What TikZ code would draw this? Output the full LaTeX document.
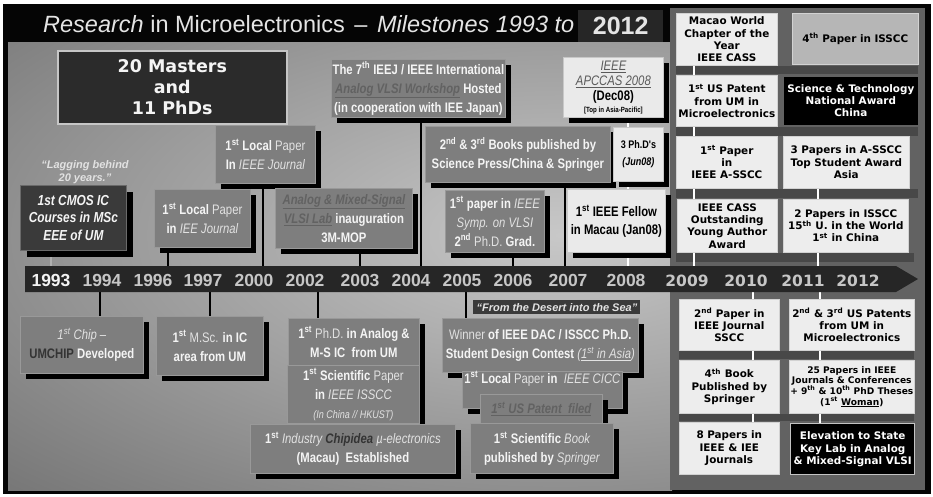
\documentclass[tikz,border=0pt]{standalone}
\usepackage{fontspec}
\setmainfont{Liberation Sans}
\newfontfamily\narf[FakeStretch=0.82]{Liberation Sans}
\newfontfamily\dvsf{DejaVu Sans}
\usetikzlibrary{shadows}
\pgfdeclarelayer{back}
\pgfdeclarelayer{connl}
\pgfsetlayers{back,connl,main}

\definecolor{gfill}{HTML}{7E7E7E}
\definecolor{gline}{HTML}{999999}
\definecolor{cfill}{HTML}{3A3A3A}
\definecolor{cline}{HTML}{6A6A6A}
\definecolor{txtW}{HTML}{F4F4F4}
\definecolor{txtL}{HTML}{E2E2E2}
\definecolor{txtD}{HTML}{343434}
\definecolor{txtG}{HTML}{626262}
\definecolor{txtGB}{HTML}{5A5A5A}
\definecolor{wfill}{HTML}{EAEAEA}
\definecolor{wline}{HTML}{C8C8C8}
\definecolor{rfill}{HTML}{EDEDED}
\definecolor{rline}{HTML}{D2D2D2}
\definecolor{rfillb}{HTML}{B6B6B6}
\definecolor{skline}{HTML}{C4C4C4}
\definecolor{mfill}{HTML}{2B2B2B}
\definecolor{mline}{HTML}{C6C6C6}
\definecolor{panelc}{HTML}{626262}
\definecolor{stripc}{HTML}{484848}
\definecolor{barc}{HTML}{262626}
\definecolor{tboxc}{HTML}{262626}
\definecolor{titlec}{HTML}{E4E4E4}
\definecolor{yearc}{HTML}{C6C6C6}
\definecolor{yearw}{HTML}{F2F2F2}
\definecolor{gradin}{HTML}{C8C8C8}
\definecolor{gradout}{HTML}{383838}
\definecolor{framec}{HTML}{050505}
\definecolor{dfill}{HTML}{3A3A3A}
\definecolor{lconnc}{HTML}{B0B0B0}

\newcommand\gfont{\narf\bfseries\fontsize{13.8}{19}\selectfont}
\newcommand\litx[1]{{\mdseries\itshape\color{txtL}#1}}
\newcommand\rgx[1]{{\mdseries\color{txtL}#1}}
\newcommand\gyx[1]{{\itshape\color{txtG}\underline{#1}}}
\newcommand\dkx[1]{{\color{txtD}#1}}
\newcommand\tsup[1]{\textsuperscript{#1}}

\tikzset{
  sh/.style={drop shadow={shadow xshift=#1, shadow yshift=-#1, fill=black, opacity=1}},
  sh/.default=6pt,
  gbase/.style={draw=gline, line width=0.8pt, fill=gfill, inner sep=0pt, align=center,
    anchor=north west, text=txtW, font=\gfont},
  gbox/.style={gbase, sh},
  wbox/.style={gbox, fill=wfill, draw=wline, text=black},
  rbox/.style={draw=rline, line width=0.6pt, fill=rfill, inner sep=0pt, align=center,
    anchor=north west, text=black, font=\dvsf\bfseries\fontsize{10.4}{12.3}\selectfont},
  conn/.style={draw=black, line width=2.4pt},
  lconn/.style={draw=lconnc, line width=2.6pt},
  wconn/.style={draw=white, line width=2.8pt},
  stripbar/.style={fill=stripc},
  yearf/.style={font=\bfseries\fontsize{17.5}{20}\selectfont, text=yearc, anchor=base, inner sep=0pt},
  yearr/.style={font=\dvsf\bfseries\fontsize{15.5}{18}\selectfont, text=yearc, anchor=base, inner sep=0pt}
}

\begin{document}
\begin{tikzpicture}[x=1pt,y=-1pt]
\useasboundingbox (0,0) rectangle (933,496);

\begin{pgfonlayer}{back}
  \fill[white] (0,0) rectangle (933,496);
  \fill[framec] (3,4) rectangle (931,494);
  \begin{scope}
    \clip (8,42) rectangle (672,490);
    \shade[inner color=gradin, outer color=gradout] (560,235) ellipse [x radius=1400pt, y radius=640pt];
  \end{scope}
  \fill[panelc] (670,8) rectangle (925,490);
  % strips of the right panel
  \fill[stripbar] (676,66) rectangle (918,74);
  \fill[stripbar] (676,127) rectangle (918,136);
  \fill[stripbar] (676,189) rectangle (918,198);
  \fill[stripbar] (676,253) rectangle (914,262);
  \fill[stripbar] (679,351) rectangle (914,359);
  \fill[stripbar] (679,414) rectangle (914,421);
\end{pgfonlayer}

% title
\node[anchor=base west, font=\fontsize{23.5}{28}\selectfont, text=titlec, inner sep=0pt] (title) at (43,32)
  {{\itshape Research} in Microelectronics\hspace{3pt} – \hspace{3pt}{\itshape Milestones 1993 to}};
\node[fill=tboxc, anchor=north west, minimum width=85pt, minimum height=32pt, inner sep=0pt,
  font=\bfseries\fontsize{25}{28}\selectfont, text=titlec] (titleyear) at (578,10) {2012};

% time bar
\fill[barc] (25,266) -- (896,266) -- (918,279) -- (896,292) -- (25,292) -- cycle;
\node[yearf, text=yearw] (yr1993) at (51,286) {1993};
\foreach \yr/\xx in {1994/102,1996/153,1997/203,2000/254,2002/305,2003/360,2004/411,2005/462,2006/513,2007/568,2008/626}
  \node[yearf] (yr\yr) at (\xx,286) {\yr};
\foreach \yr/\xx in {2009/687,2010/746,2011/803,2012/858}
  \node[yearr] (yr\yr) at (\xx,286) {\yr};

% connector points on the bar
\coordinate (c1) at (51,266);
\coordinate (c2) at (168,266);
\coordinate (c3) at (263,266);
\coordinate (c4) at (360,266);
\coordinate (c5) at (421,266);
\coordinate (c6) at (513,266);
\coordinate (c7) at (565,266);
\coordinate (c8) at (628,266);
\coordinate (c9) at (694,266);
\coordinate (c10) at (818,266);
\coordinate (d1) at (100,292);
\coordinate (d2) at (210,292);
\coordinate (d3) at (318,292);
\coordinate (d4) at (466,292);
\coordinate (d5) at (753,292);
\coordinate (d6) at (820,292);

% upper left boxes
\node[draw=mline, line width=1.6pt, fill=mfill, anchor=north west, minimum width=229pt, minimum height=73pt,
  inner sep=0pt, align=center, text=txtW, font=\dvsf\bfseries\fontsize{17.5}{21}\selectfont] (masters) at (57,50)
  {20 Masters\\and\\11 PhDs};
\node[align=center, text=txtL, font=\bfseries\itshape\fontsize{11}{12.5}\selectfont, inner sep=0pt] (lag) at (85,172)
  {“Lagging behind\\20 years.”};
\node[gbase, sh=7pt, fill=cfill, draw=cline, minimum width=106pt, minimum height=65pt,
  font=\narf\bfseries\itshape\fontsize{14.5}{17.5}\selectfont] (cmos) at (20,185)
  {1st CMOS IC\\Courses in MSc\\EEE of UM};
\node[gbox, minimum width=96pt, minimum height=58pt] (lpiee) at (154,189)
  {1\tsup{st} Local \rgx{Paper}\\in \litx{IEE Journal}};
\node[gbox, minimum width=100pt, minimum height=58pt] (lpieee) at (215,125)
  {1\tsup{st} Local \rgx{Paper}\\In \litx{IEEE Journal}};
\node[gbox, minimum width=137pt, minimum height=60pt] (lab) at (275,188)
  {\gyx{Analog \& Mixed-Signal}\\\gyx{VLSI Lab} inauguration\\3M-MOP};
\node[gbox, minimum width=174pt, minimum height=58pt] (workshop) at (331,59)
  {The 7\tsup{th} IEEJ / IEEE International\\\gyx{Analog VLSI Workshop} Hosted\\(in cooperation with IEE Japan)};
\node[gbox, minimum width=185pt, minimum height=56pt] (books) at (425,126)
  {2\tsup{nd} \& 3\tsup{rd} Books published by\\Science Press/China \& Springer};
\node[gbox, minimum width=99pt, minimum height=62pt] (symp) at (445,190)
  {1\tsup{st} paper in \litx{IEEE}\\\litx{Symp. on VLSI}\\2\tsup{nd} \rgx{Ph.D.} Grad.};
\node[wbox, minimum width=100pt, minimum height=60pt, font=\narf\fontsize{13.8}{15}\selectfont] (apccas) at (563,57)
  {{\itshape\color{txtGB}\underline{IEEE}}\\{\itshape\color{txtGB}\underline{APCCAS 2008}}\\{\bfseries (Dec08)}\\[-3pt]{\bfseries\fontsize{7.5}{9}\selectfont [Top in Asia-Pacific]}};
\node[wbox, minimum width=50pt, minimum height=54pt, font=\narf\bfseries\fontsize{11}{17}\selectfont] (phd3) at (613,127)
  {3 Ph.D's\\{\itshape (Jun08)}};
\node[wbox, minimum width=98pt, minimum height=63pt, font=\narf\bfseries\fontsize{13.8}{18}\selectfont] (fellow) at (567,189)
  {1\tsup{st} IEEE Fellow\\in Macau (Jan08)};

% lower left boxes
\node[gbox, minimum width=123pt, minimum height=57pt] (chip) at (20,316)
  {\litx{1\tsup{st} Chip –}\\\dkx{UMCHIP} Developed};
\node[gbox, minimum width=107pt, minimum height=59pt] (msc) at (156,316)
  {1\tsup{st} \rgx{M.Sc.} in IC\\area from UM};
\node[gbox, minimum width=131pt, minimum height=47pt] (phd) at (288,318)
  {1\tsup{st} \rgx{Ph.D.} in Analog \&\\M-S IC\ \ from UM};
\node[gbox, minimum width=132pt, minimum height=58pt] (isscc) at (287,365)
  {1\tsup{st} Scientific \rgx{Paper}\\in \litx{IEEE ISSCC}\\{\fontsize{11}{13}\selectfont\litx{(In China // HKUST)}}};
\node[gbox, minimum width=205pt, minimum height=49pt] (chipidea) at (250,424)
  {1\tsup{st} \litx{Industry} \dkx{\itshape Chipidea} \litx{µ-electronics}\\(Macau)\ \ Established};
\node[gbase, fill=dfill, draw=none, minimum width=167pt, minimum height=14pt,
  font=\bfseries\itshape\fontsize{11}{13}\selectfont, text=txtL] (desert) at (473,300)
  {“From the Desert into the Sea”};
\node[gbox, minimum width=196pt, minimum height=54pt] (winner) at (442,318)
  {\rgx{Winner} of IEEE DAC / ISSCC Ph.D.\\Student Design Contest \litx{(\underline{1\tsup{st} in Asia})}};
\node[gbox, minimum width=160pt, minimum height=37pt] (cicc) at (462,371)
  {1\tsup{st} Local \rgx{Paper} in\ \ \litx{IEEE CICC}\\[6pt]\mbox{}};
\node[gbox, minimum width=122pt, minimum height=29pt] (usp) at (480,394)
  {\gyx{1\tsup{st} US Patent\ \ filed}};
\node[gbox, minimum width=143pt, minimum height=50pt] (book) at (470,423)
  {1\tsup{st} Scientific \litx{Book}\\published by \litx{Springer}};

% right column, above the bar
\node[rbox, minimum width=101pt, minimum height=52pt] (macao) at (676,13)
  {Macao World\\Chapter of the\\Year\\IEEE CASS};
\node[rbox, fill=rfillb, minimum width=126pt, minimum height=51pt] (isscc4) at (792,13)
  {4\tsup{th} Paper in ISSCC};
\node[rbox, minimum width=101pt, minimum height=51pt] (uspat) at (676,75)
  {1\tsup{st} US Patent\\from UM in\\Microelectronics};
\node[rbox, fill=black, draw=black, text=white, minimum width=133pt, minimum height=47pt] (natl) at (784,77)
  {Science \& Technology\\National Award\\China};
\node[rbox, minimum width=101pt, minimum height=52pt] (asscc1) at (676,136)
  {1\tsup{st} Paper\\in\\IEEE A-SSCC};
\node[rbox, minimum width=126pt, minimum height=52pt] (asscc3) at (783,136)
  {3 Papers in A-SSCC\\Top Student Award\\Asia};
\node[rbox, minimum width=100pt, minimum height=53pt] (cass) at (677,199)
  {IEEE CASS\\Outstanding\\Young Author\\Award};
\node[rbox, minimum width=125pt, minimum height=53pt] (isscc2) at (783,199)
  {2 Papers in ISSCC\\15\tsup{th} U. in the World\\1\tsup{st} in China};

% right column, below the bar
\node[rbox, minimum width=100pt, minimum height=51pt] (sscc) at (679,299)
  {2\tsup{nd} Paper in\\IEEE Journal\\SSCC};
\node[rbox, minimum width=125pt, minimum height=51pt] (pat23) at (789,299)
  {2\tsup{nd} \& 3\tsup{rd} US Patents\\from UM in\\Microelectronics};
\node[rbox, minimum width=100pt, minimum height=53pt] (book4) at (679,360)
  {4\tsup{th} Book\\Published by\\Springer};
\node[rbox, minimum width=125pt, minimum height=53pt, font=\dvsf\bfseries\fontsize{9.1}{10.6}\selectfont] (pap25) at (789,360)
  {25 Papers in IEEE\\Journals \& Conferences\\+ 9\tsup{th} \& 10\tsup{th} PhD Theses\\(1\tsup{st} \underline{Woman})};
\node[rbox, minimum width=100pt, minimum height=52pt] (pap8) at (679,422)
  {8 Papers in\\IEEE \& IEE\\Journals};
\node[rbox, fill=black, draw=skline, line width=1.4pt, text=white, minimum width=124pt, minimum height=51pt] (skl) at (790,423)
  {Elevation to State\\Key Lab in Analog\\\& Mixed-Signal VLSI};

% connectors
\begin{pgfonlayer}{connl}
  \draw[lconn] (cmos.south -| c1) -- (c1);
  \draw[conn] (lpiee.south -| c2) -- (c2);
  \draw[conn] (lpieee.south -| c3) -- (c3);
  \draw[conn] (lab.south -| c4) -- (c4);
  \draw[conn] (workshop.south -| c5) -- (c5);
  \draw[conn] (symp.south -| c6) -- (c6);
  \draw[conn] (books.south -| c7) -- (c7);
  \draw[wconn] (apccas.south -| c8) -- (phd3.north -| c8);
  \draw[wconn] (phd3.south -| c8) -- (fellow.north -| c8);
  \draw[wconn] (fellow.south -| c8) -- (c8);
  \draw[wconn] (macao.south -| c9) -- (uspat.north -| c9);
  \draw[wconn] (uspat.south -| c9) -- (asscc1.north -| c9);
  \draw[wconn] (asscc1.south -| c9) -- (cass.north -| c9);
  \draw[wconn] (cass.south -| c9) -- (c9);
  \draw[wconn] (asscc3.south -| c10) -- (isscc2.north -| c10);
  \draw[wconn] (isscc2.south -| c10) -- (c10);
  \draw[conn] (d1) -- (chip.north -| d1);
  \draw[conn] (d2) -- (msc.north -| d2);
  \draw[conn] (d3) -- (phd.north -| d3);
  \draw[conn] (d4) -- (winner.north -| d4);
  \draw[wconn] (d5) -- (sscc.north -| d5);
  \draw[wconn] (sscc.south -| d5) -- (book4.north -| d5);
  \draw[wconn] (book4.south -| d5) -- (pap8.north -| d5);
  \draw[wconn] (d6) -- (pat23.north -| d6);
  \draw[wconn] (pat23.south -| d6) -- (pap25.north -| d6);
  \draw[wconn] (pap25.south -| d6) -- (skl.north -| d6);
\end{pgfonlayer}
\end{tikzpicture}
\end{document}
